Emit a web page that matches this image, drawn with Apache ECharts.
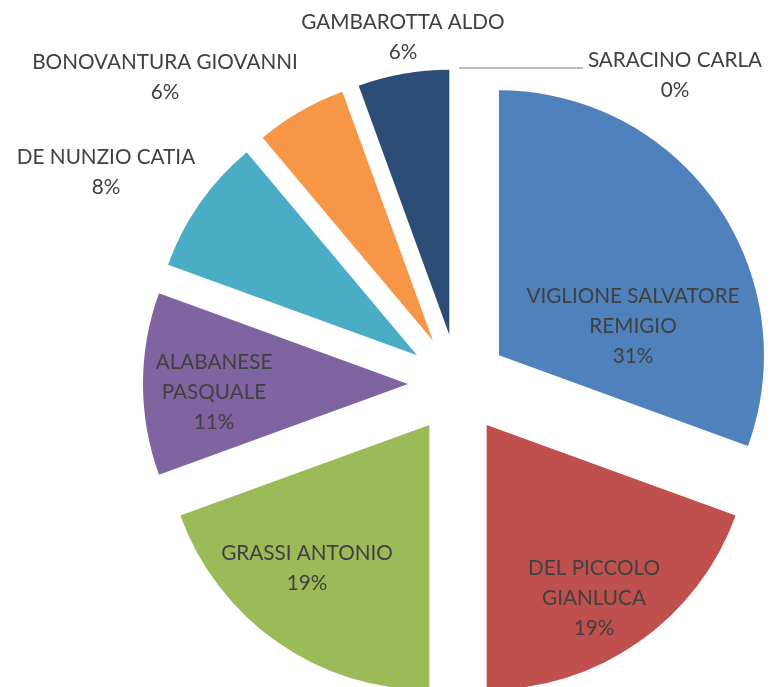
<!DOCTYPE html>
<html>
<head>
<meta charset="utf-8">
<script src="https://cdn.jsdelivr.net/npm/echarts@6/dist/echarts.min.js"></script>
<style>
  html, body { margin: 0; padding: 0; background: #fff; }
  #chart { width: 780px; height: 687px; }
</style>
</head>
<body>
<div id="chart"></div>
<script>
// dati
var names = ['VIGLIONE SALVATORE\nREMIGIO', 'DEL PICCOLO\nGIANLUCA', 'GRASSI ANTONIO',
    'ALABANESE\nPASQUALE', 'DE NUNZIO CATIA', 'BONOVANTURA GIOVANNI', 'GAMBAROTTA ALDO', 'SARACINO CARLA'];
var values = [11, 7, 7, 4, 3, 2, 2, 0];
var colors = ['#4F81BD', '#C0504D', '#9BBB59', '#8064A2', '#4BACC6', '#F79646', '#2C4D75', '#772C2A'];

// posizione etichette (centro del blocco di testo)
var labelPos = [[633, 326], [594, 598], [307, 568], [214, 392], [106, 172], [165, 77], [403, 37], [675, 75]];

var dom = document.getElementById('chart');
var myChart = echarts.init(dom);

var sliceData = [], labelData = [];
for (var i = 0; i < names.length; i++) {
    sliceData.push({
        name: names[i]
        , value: values[i]
        , selected: true
        , itemStyle: { color: colors[i] }
    });
    // serie trasparente solo per le etichette
    labelData.push({
        name: names[i]
        , value: values[i]
        , itemStyle: { color: 'rgba(0,0,0,0)' }
        , labelLine: { show: i === 7, lineStyle: { color: '#A6A6A6', width: 1.5 } }
    });
}

var option = {
    animation: false,
    series: [{
        type: 'pie',
        center: [458, 384],
        radius: 265,
        startAngle: 90,
        clockwise: true,
        selectedMode: 'multiple',
        selectedOffset: 50,
        label: { show: false },
        labelLine: { show: false },
        emphasis: { disabled: true },
        silent: true,
        data: sliceData
    }, {
        type: 'pie',
        center: [458, 384],
        radius: 265,
        startAngle: 90,
        clockwise: true,
        avoidLabelOverlap: false,
        silent: true,
        emphasis: { disabled: true },
        label: {
            show: true,
            position: 'outside',
            color: '#404040',
            fontFamily: 'Lato',
            fontSize: 20.7,
            lineHeight: 30,
            align: 'center',
            formatter: function (p) {
                return p.name + '\n' + Math.round(p.percent) + '%';
            }
        },
        labelLayout: function (params) {
            var pos = labelPos[params.dataIndex];
            var res = { x: pos[0], y: pos[1], align: 'center', verticalAlign: 'middle' };
            if (params.dataIndex === 7) {
                res.labelLinePoints = [[459, 68], [583, 68], [583, 68]];
            }
            return res;
        },
        data: labelData
    }]
};
myChart.setOption(option);
</script>
</body>
</html>
